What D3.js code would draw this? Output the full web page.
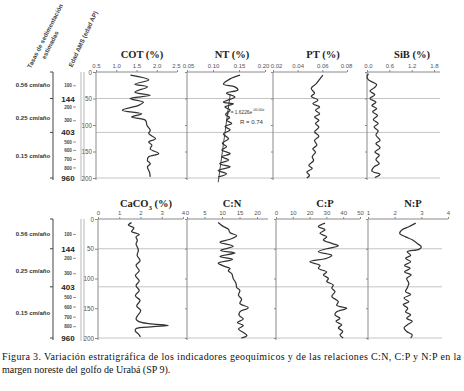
<!DOCTYPE html>
<html>
<head>
<meta charset="utf-8">
<script src="https://cdn.jsdelivr.net/npm/d3@7"></script>
<style>
  body { margin: 0; background: #fff; }
  svg { display: block; }
</style>
</head>
<body>
<div id="fig"></div>
<script>
// ---- data (depth in cm) ----
var depthTicks = [0, 50, 100, 150, 200];

var cotDepth = [6, 15, 23, 28, 38, 44, 50, 57, 63, 72, 79, 85, 91, 101, 110, 116, 126, 132, 138, 145, 154, 160, 167, 173, 179, 189, 198];
var cotPct = [1.35, 1.80, 1.46, 1.77, 1.46, 1.84, 1.34, 1.67, 1.55, 1.15, 1.63, 1.38, 1.72, 1.76, 1.84, 1.80, 1.97, 1.80, 1.88, 1.84, 2.05, 1.80, 1.77, 1.84, 1.77, 1.82, 1.84];

var ntDepth = [6, 13, 23, 28, 34, 40, 47, 57, 60, 66, 72, 80, 86, 91, 97, 103, 109, 117, 126, 134, 141, 147, 154, 160, 166, 173, 179, 186, 192, 198];
var ntPct = [0.152, 0.133, 0.120, 0.142, 0.148, 0.126, 0.142, 0.120, 0.139, 0.123, 0.133, 0.124, 0.132, 0.126, 0.136, 0.123, 0.133, 0.120, 0.130, 0.118, 0.126, 0.117, 0.133, 0.117, 0.130, 0.113, 0.133, 0.110, 0.126, 0.110];
var ntTrendDepth = [43, 208];
var ntTrendPct = [0.133, 0.110];

var ptDepth = [6, 12, 22, 31, 40, 46, 53, 60, 66, 72, 79, 85, 91, 97, 104, 113, 121, 129, 138, 145, 151, 160, 167, 176, 182, 189, 195, 200];
var ptPct = [0.0605, 0.0584, 0.0551, 0.0510, 0.0537, 0.0510, 0.0564, 0.0523, 0.0578, 0.0545, 0.0578, 0.0537, 0.0572, 0.0545, 0.0572, 0.0537, 0.0572, 0.0537, 0.0556, 0.0523, 0.0545, 0.0518, 0.0529, 0.0490, 0.0518, 0.0474, 0.0496, 0.0474];

var sibDepth = [3, 9, 15, 24, 30, 36, 43, 50, 57, 63, 69, 75, 82, 90, 97, 104, 111, 119, 129, 135, 143, 151, 157, 165, 173, 179, 187, 193, 199];
var sibPct = [0.04, 0.00, 0.04, 0.26, 0.19, 0.08, 0.21, 0.08, 0.24, 0.13, 0.26, 0.15, 0.28, 0.17, 0.30, 0.19, 0.30, 0.24, 0.35, 0.24, 0.35, 0.21, 0.33, 0.24, 0.33, 0.19, 0.13, 0.35, 0.21];

var cacoDepth = [6, 10, 15, 21, 26, 30, 36, 42, 48, 53, 61, 70, 78, 87, 95, 104, 112, 120, 129, 137, 146, 154, 163, 168, 172, 176, 179, 181, 184, 188, 193, 198];
var cacoPct = [1.58, 1.43, 1.69, 1.58, 1.94, 1.79, 1.85, 1.79, 1.86, 1.90, 1.84, 1.98, 1.79, 1.94, 1.76, 1.94, 1.79, 1.94, 1.76, 1.98, 1.82, 2.01, 1.85, 1.79, 1.90, 2.40, 3.30, 2.60, 1.80, 1.75, 1.90, 2.00];

var cnDepth = [6, 12, 17, 23, 28, 34, 39, 46, 53, 57, 63, 68, 74, 80, 83, 87, 92, 100, 108, 115, 120, 128, 135, 142, 149, 156, 162, 168, 174, 179, 185, 190, 196, 200];
var cnRatio = [8.9, 10.2, 11.8, 12.3, 14.2, 12.3, 9.4, 13.2, 9.6, 13.7, 9.4, 13.0, 8.9, 10.9, 12.3, 11.8, 12.8, 13.2, 14.0, 14.2, 15.1, 14.7, 15.6, 15.1, 17.5, 15.1, 14.9, 16.1, 14.4, 16.1, 14.7, 15.9, 17.1, 15.5];

var cpDepth = [7, 13, 18, 24, 30, 35, 41, 45, 50, 55, 61, 66, 72, 78, 83, 89, 94, 100, 105, 111, 116, 122, 130, 139, 145, 150, 156, 161, 167, 172, 178, 183, 189, 195, 200];
var cpRatio = [29.2, 25.2, 29.2, 26.2, 30.2, 28.2, 33.2, 37.1, 30.2, 25.2, 33.2, 30.2, 20.2, 26.2, 25.2, 30.2, 28.2, 31.2, 30.2, 34.1, 33.2, 35.1, 33.2, 37.1, 36.1, 42.1, 36.1, 35.1, 38.1, 35.7, 39.1, 37.1, 39.7, 38.1, 40.0];

var npDepth = [7, 13, 18, 24, 30, 35, 41, 47, 51, 55, 61, 66, 72, 78, 83, 89, 94, 100, 108, 116, 122, 127, 133, 139, 144, 150, 156, 161, 167, 172, 178, 183, 189, 195, 200];
var npRatio = [2.79, 2.53, 2.28, 2.19, 2.41, 2.66, 2.85, 3.00, 2.91, 2.47, 2.60, 2.41, 2.60, 2.37, 2.58, 2.37, 2.62, 2.45, 2.53, 2.47, 2.41, 2.60, 2.35, 2.53, 2.32, 2.49, 2.41, 2.60, 2.45, 2.66, 2.47, 2.35, 2.45, 2.66, 2.60];

// tick labels of the value axes
var cotTicks = [0.5, 1.0, 1.5, 2.0, 2.5];
var ntTicks = [0.05, 0.10, 0.15, 0.20];
var ptTicks = [0.02, 0.04, 0.06, 0.08];
var sibTicks = [0.0, 0.6, 1.2, 1.8];
var cacoTicks = [0, 1, 2, 3, 4];
var cnTicks = [0, 5, 10, 15, 20];
var cpTicks = [0, 10, 20, 30, 40, 50];
var npTicks = [1, 2, 3, 4];

// age model / sedimentation rates (left column)
var bigAges = ["144", "403", "960"];
var bigAgeDepth = [50, 114, 200];
var smallAges = ["100", "200", "300", "500", "600", "700", "800"];
var smallAgeDepth = [26, 66, 92, 132, 148, 165, 181];
var rateLabels = ["0.56 cm/año", "0.25 cm/año", "0.15 cm/año"];
var rateDepth = [25, 87, 158];

const W = 464, H = 391;
const svg = d3.select("#fig").append("svg").attr("width", W).attr("height", H);

const yTop = d3.scaleLinear().domain([0, 200]).range([72, 178]);
const yBot = d3.scaleLinear().domain([0, 200]).range([219, 338]);

const sans = "Liberation Sans, Arial, sans-serif";
const serif = "Liberation Serif, Times New Roman, serif";

function drawPanel(p, y, first, titleY) {
  const x = d3.scaleLinear().domain(p.dom).range(p.rng);
  const g = svg.append("g");

  // top value axis
  const ax = g.append("g")
    .attr("transform", `translate(0,${y(0)})`)
    .call(d3.axisTop(x).tickValues(p.ticks).tickFormat(d3.format(p.fmt)).tickSize(2).tickPadding(2).tickSizeOuter(0));
  ax.select(".domain").attr("stroke", "#8a8a8a").attr("d", `M${p.rng[0]},0H${p.end}`);
  ax.selectAll(".tick line").attr("stroke", "#8a8a8a");
  ax.selectAll("text").attr("font-family", sans).attr("font-size", 6).attr("fill", "#555");
  // nudge end labels so neighbouring axes don't collide (like the original)
  if (p.nudge) {
    ax.selectAll(".tick text").attr("dx", (d, i, n) =>
      i == 0 ? p.nudge[0] : (i == n.length - 1 ? p.nudge[1] : 0));
  }

  // left line of the panel (depth axis)
  const ay = g.append("g")
    .attr("transform", `translate(${p.rng[0]},0)`)
    .call(d3.axisLeft(y).tickValues(depthTicks).tickSize(first ? 3 : 2).tickPadding(1)
      .tickFormat(first ? d3.format("d") : ""));
  ay.select(".domain").attr("stroke", "#8a8a8a").attr("d", `M0,${y(0)}V${y(200) + 2}`);
  ay.selectAll(".tick line").attr("stroke", "#8a8a8a");
  ay.selectAll("text").attr("font-family", sans).attr("font-size", 6.3).attr("fill", "#555");

  // title
  const t = g.append("text")
    .attr("x", p.tx).attr("y", titleY)
    .attr("text-anchor", "middle")
    .attr("font-family", serif).attr("font-weight", "bold").attr("font-size", 10.5)
    .attr("fill", "#222");
  if (p.sub) {
    t.append("tspan").text(p.title[0]);
    t.append("tspan").text(p.sub).attr("font-size", 7).attr("dy", 2.5);
    t.append("tspan").text(p.title[1]).attr("dy", -2.5);
  } else {
    t.text(p.title);
  }

  // the profile
  const line = d3.line()
    .x((d) => x(d[1]))
    .y((d) => y(d[0]))
    .curve(d3.curveCatmullRom.alpha(0.5));
  g.append("path")
    .datum(d3.zip(p.d, p.v))
    .attr("fill", "none")
    .attr("stroke", "#333")
    .attr("stroke-width", 1.25)
    .attr("d", line);
  return x;
}

function drawBlock(panels, y, titleY, gridEnd) {
  // horizontal grid at the dated levels
  svg.append("g")
    .selectAll("line")
    .data(bigAgeDepth)
    .enter()
    .append("line")
    .attr("x1", panels[0].rng[0]).attr("x2", gridEnd)
    .attr("y1", (d) => y(d)).attr("y2", (d) => y(d))
    .attr("stroke", "#c4c4c4").attr("stroke-width", 1);

  var xs = panels.map((p, i) => drawPanel(p, y, i == 0, titleY));

  // left column: sedimentation rate bracket
  const left = svg.append("g");
  left.append("line")
    .attr("x1", 53).attr("x2", 53)
    .attr("y1", y(0)).attr("y2", y(200) + 2)
    .attr("stroke", "#444").attr("stroke-width", 1);
  left.selectAll(".brk")
    .data([0].concat(bigAgeDepth))
    .enter()
    .append("line")
    .attr("x1", 50).attr("x2", 53)
    .attr("y1", (d) => y(d)).attr("y2", (d) => y(d))
    .attr("stroke", "#444");
  left.selectAll(".rate")
    .data(rateLabels)
    .enter()
    .append("text")
    .text((d) => d)
    .attr("x", 33).attr("y", (d, i) => y(rateDepth[i]) + 2)
    .attr("text-anchor", "middle")
    .attr("font-family", sans).attr("font-weight", "bold").attr("font-size", 6)
    .attr("fill", "#333");

  // age axis (thin double line)
  [81, 84].forEach(function (xx) {
    left.append("line")
      .attr("x1", xx).attr("x2", xx)
      .attr("y1", y(0)).attr("y2", y(200) + 3)
      .attr("stroke", "#999").attr("stroke-width", 0.7);
  });
  left.selectAll(".big")
    .data(bigAges)
    .enter()
    .append("text")
    .text((d) => d)
    .attr("x", 68).attr("y", (d, i) => y(bigAgeDepth[i]) + 3)
    .attr("text-anchor", "middle")
    .attr("font-family", sans).attr("font-weight", "bold").attr("font-size", 8)
    .attr("fill", "#222");
  left.selectAll(".small")
    .data(smallAges)
    .enter()
    .append("text")
    .text((d) => d)
    .attr("x", 68).attr("y", (d, i) => y(smallAgeDepth[i]) + 1.7)
    .attr("text-anchor", "middle")
    .attr("font-family", sans).attr("font-weight", "bold").attr("font-size", 4.6)
    .attr("fill", "#444");
  left.selectAll(".smallt")
    .data(smallAgeDepth)
    .enter()
    .append("line")
    .attr("x1", 73).attr("x2", 76)
    .attr("y1", (d) => y(d)).attr("y2", (d) => y(d))
    .attr("stroke", "#666").attr("stroke-width", 0.7);
  return xs;
}

var topPanels = [
  { title: "COT (%)", dom: [0.5, 2.5], rng: [96, 177], end: 177, ticks: cotTicks, fmt: ".1f", d: cotDepth, v: cotPct, tx: 142, nudge: [0, -1] },
  { title: "NT (%)", dom: [0.05, 0.20], rng: [187, 265], end: 265, ticks: ntTicks, fmt: ".2f", d: ntDepth, v: ntPct, tx: 232, nudge: [1, -2] },
  { title: "PT (%)", dom: [0.02, 0.08], rng: [273, 347], end: 347, ticks: ptTicks, fmt: ".2f", d: ptDepth, v: ptPct, tx: 323, nudge: [3, -1] },
  { title: "SiB (%)", dom: [0, 1.8], rng: [367, 434], end: 440, ticks: sibTicks, fmt: ".1f", d: sibDepth, v: sibPct, tx: 412, nudge: [1, 0] }
];
var botPanels = [
  { title: ["CaCO", " (%)"], sub: "3", dom: [0, 4], rng: [98, 183], end: 183, ticks: cacoTicks, fmt: "d", d: cacoDepth, v: cacoPct, tx: 146 },
  { title: "C:N", dom: [0, 20], rng: [187, 257], end: 268, ticks: cnTicks, fmt: "d", d: cnDepth, v: cnRatio, tx: 232 },
  { title: "C:P", dom: [0, 50], rng: [276, 360], end: 360, ticks: cpTicks, fmt: "d", d: cpDepth, v: cpRatio, tx: 325 },
  { title: "N:P", dom: [1, 4], rng: [368, 448], end: 448, ticks: npTicks, fmt: "d", d: npDepth, v: npRatio, tx: 413 }
];

var xt = drawBlock(topPanels, yTop, 58, 440);
drawBlock(botPanels, yBot, 207, 442);

// exponential fit drawn on NT
var xNT = xt[1];
svg.append("path")
  .datum(d3.zip(ntTrendDepth, ntTrendPct))
  .attr("fill", "none").attr("stroke", "#333").attr("stroke-width", 0.9)
  .attr("d", d3.line().x((d) => xNT(d[1])).y((d) => yTop(d[0])));
var eq = svg.append("text")
  .attr("x", 227).attr("y", 114)
  .attr("font-family", sans).attr("font-size", 4.8).attr("fill", "#333");
eq.append("tspan").text("y = 1.6226e");
eq.append("tspan").text("-00.00x").attr("font-size", 3.6).attr("dy", -3);
svg.append("text")
  .attr("x", 240).attr("y", 124)
  .attr("font-family", sans).attr("font-size", 6).attr("fill", "#333")
  .text("R = 0.74");

// rotated column headers
function rotText(str, cx, cy, ang) {
  svg.append("text")
    .attr("transform", `translate(${cx},${cy}) rotate(${ang})`)
    .attr("text-anchor", "middle")
    .attr("font-family", sans).attr("font-weight", "bold").attr("font-size", 6.2)
    .attr("fill", "#444")
    .text(str);
}
rotText("Tasas de sedimentación", 47, 37, -63);
rotText("estimadas", 52, 46, -63);
rotText("Edad AMS (edad AP)", 85, 40, -65);

// caption
var cap = svg.append("g")
  .attr("font-family", serif).attr("font-size", 10).attr("fill", "#111");
cap.append("text").attr("x", 2).attr("y", 360)
  .attr("textLength", 459).attr("lengthAdjust", "spacing")
  .text("Figura 3. Variación estratigráfica de los indicadores geoquímicos y de las relaciones C:N, C:P y N:P en la");
cap.append("text").attr("x", 2).attr("y", 373)
  .text("margen noreste del golfo de Urabá (SP 9).");
</script>
</body>
</html>
